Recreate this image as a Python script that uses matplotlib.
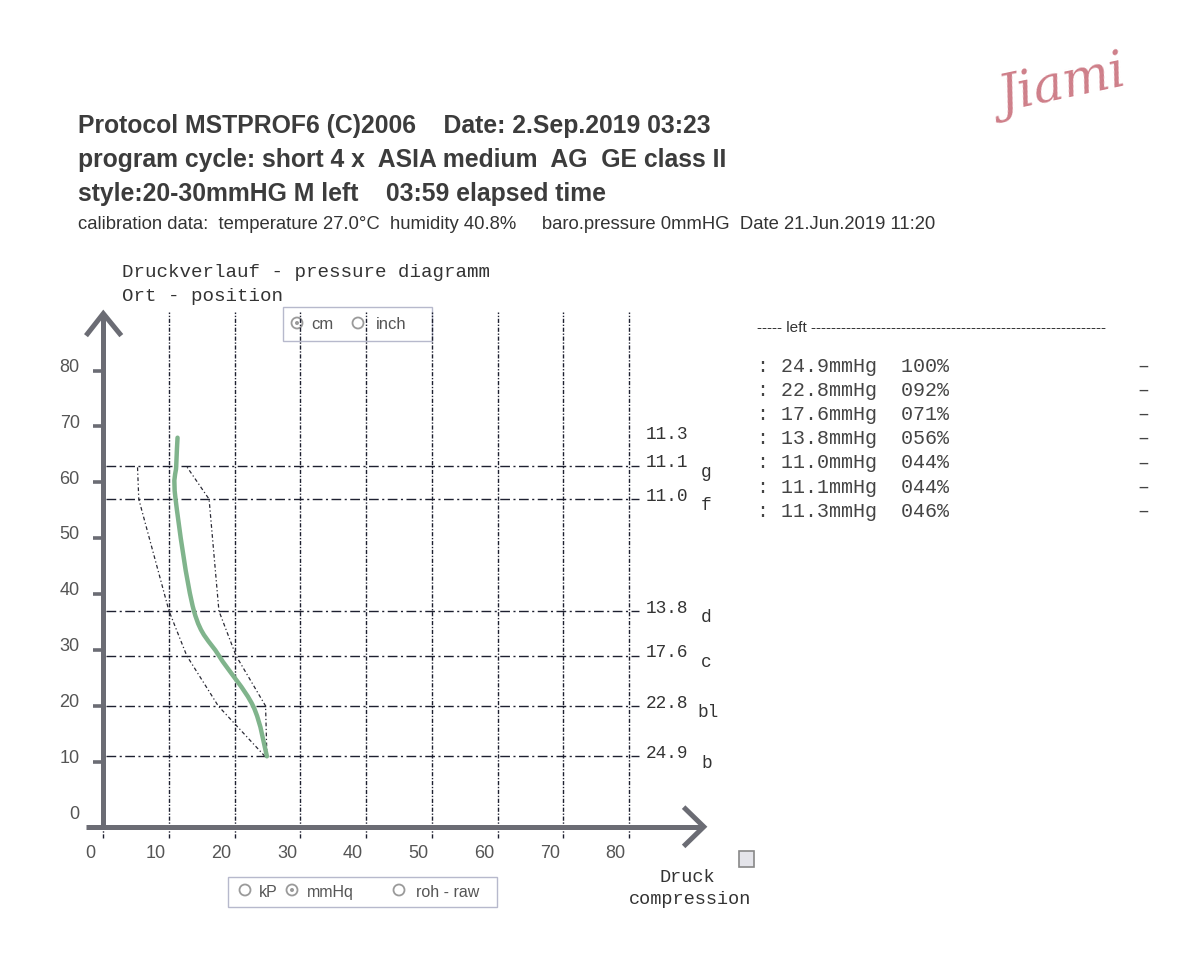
import matplotlib
matplotlib.use("Agg")
import matplotlib.pyplot as plt
from matplotlib.path import Path
from matplotlib.patches import PathPatch, Rectangle, Circle
import numpy as np

# ---------------- data ----------------
positions = [11, 20, 29, 37, 57, 63, 68]            # Ort - position (cm)
pressures = [24.9, 22.8, 17.6, 13.8, 11.0, 11.1, 11.3]  # mmHg
letters = ['b', 'bl', 'c', 'd', 'f', 'g', '']
percents = [100, 92, 71, 56, 44, 44, 46]
line_levels = [11, 20, 29, 37, 57, 63]               # levels with horizontal lines

env_pos = [11, 20, 29, 37, 57, 63]
env_low = [24.6, 17.5, 12.7, 10.0, 5.4, 5.2]
env_high = [24.9, 24.7, 20.2, 17.6, 16.1, 12.6]

x_ticks = [0, 10, 20, 30, 40, 50, 60, 70, 80]
y_ticks = [0, 10, 20, 30, 40, 50, 60, 70, 80]

table_order = [0, 1, 2, 3, 4, 5, 6]

header_lines = [
    "Protocol MSTPROF6 (C)2006    Date: 2.Sep.2019 03:23",
    "program cycle: short 4 x  ASIA medium  AG  GE class II",
    "style:20-30mmHG M left    03:59 elapsed time",
]
calib_line = ("calibration data:  temperature 27.0\u00b0C  humidity 40.8%     "
              "baro.pressure 0mmHG  Date 21.Jun.2019 11:20")

# ---------------- figure ----------------
W, H = 1200, 955
fig = plt.figure(figsize=(W / 100, H / 100), dpi=100)
fig.patch.set_facecolor("white")

# background overlay in pixel coordinates (layout / decoration)
bg = fig.add_axes([0, 0, 1, 1])
bg.set_xlim(0, W)
bg.set_ylim(H, 0)
bg.axis("off")

# chart axes: data -> pixel mapping  px = 103.3 + 6.57*x ; py = 817.8 - 5.59*y
X0, XS = 103.3, 6.57
Y0, YS = 817.8, 5.59
xmin, xmax = -5, 92
ymin, ymax = -6, 92
left = (X0 + XS * xmin) / W
right = (X0 + XS * xmax) / W
top = (Y0 - YS * ymax) / H
bottom = (Y0 - YS * ymin) / H
ax = fig.add_axes([left, 1 - bottom, right - left, bottom - top])
ax.set_xlim(xmin, xmax)
ax.set_ylim(ymin, ymax)
ax.axis("off")

MONO = "Liberation Mono"
SANS = "Liberation Sans"
GRID = "#1e2030"
AXC = "#6b6c74"

# header
hy = [126, 160, 194]
for t, y in zip(header_lines, hy):
    bg.text(78, y, t, fontsize=17.8, fontweight="bold", family=SANS,
            color="#3c3c3c", va="center", ha="left")
bg.text(78, 224, calib_line, fontsize=13.3, family=SANS, color="#333333",
        va="center", ha="left")

# signature
bg.text(1062, 86, "Jiami", fontsize=36, family="DejaVu Serif", style="italic",
        color="#c9707c", va="center", ha="center", rotation=12, alpha=0.9)

# chart titles
bg.text(122, 272, "Druckverlauf - pressure diagramm", family=MONO, fontsize=13.8,
        color="#333333", va="center")
bg.text(122, 296, "Ort - position", family=MONO, fontsize=13.8,
        color="#333333", va="center")

# vertical grid lines
for xv in x_ticks:
    ax.plot([xv, xv], [-3.6, 90.5], color=GRID, lw=1.0,
            dashes=(3, 1.2, 1, 1.2), clip_on=False, zorder=2)

# horizontal level lines
for lv in line_levels:
    ax.plot([0.4, 81.5], [lv, lv], color=GRID, lw=1.0,
            dashes=(7, 2.5, 1.5, 2.5), clip_on=False, zorder=2)

# envelope (tolerance band)
ax.plot(env_low, env_pos, color="#2a2a35", lw=0.9, dashes=(3, 2, 1, 2),
        clip_on=False, zorder=3)
ax.plot(env_high, env_pos, color="#2a2a35", lw=0.9, dashes=(3, 2, 1, 2),
        clip_on=False, zorder=3)
ax.plot([env_low[0], env_high[0]], [env_pos[0], env_pos[0]], color="#2a2a35",
        lw=0.9, clip_on=False, zorder=3)

# green pressure curve (smooth Catmull-Rom bezier through measured points)
P = np.column_stack([pressures, positions]).astype(float)
verts = [tuple(P[0])]
codes = [Path.MOVETO]
n = len(P)
for i in range(n - 1):
    p0 = P[i - 1] if i > 0 else P[i]
    p1, p2 = P[i], P[i + 1]
    p3 = P[i + 2] if i + 2 < n else P[i + 1]
    c1 = p1 + (p2 - p0) / 6.0
    c2 = p2 - (p3 - p1) / 6.0
    verts += [tuple(c1), tuple(c2), tuple(p2)]
    codes += [Path.CURVE4] * 3
ax.add_patch(PathPatch(Path(verts, codes), facecolor="none",
                       edgecolor="#80b48c", lw=3.2, zorder=4, clip_on=False,
                       capstyle="round", joinstyle="round"))

# axes (thick gray with chevron arrows)
ax.plot([0, 0], [-1.6, 89.8], color=AXC, lw=3.6, clip_on=False, zorder=5,
        solid_capstyle="butt")
ax.plot([-2.6, 91.2], [-1.6, -1.6], color=AXC, lw=3.6, clip_on=False, zorder=5,
        solid_capstyle="butt")
# y arrow
ax.plot([-2.4, 0, 2.5], [86.6, 90.2, 86.6], color=AXC, lw=3.6, clip_on=False,
        zorder=5, solid_joinstyle="miter")
# x arrow
ax.plot([88.6, 91.4, 88.6], [1.6, -1.6, -4.8], color=AXC, lw=3.6, clip_on=False,
        zorder=5, solid_joinstyle="miter")

# y ticks and labels
for yv in y_ticks:
    if yv > 0:
        ax.plot([-1.6, 0], [yv, yv], color=AXC, lw=2.6, clip_on=False, zorder=5,
                solid_capstyle="butt")
    ax.text(-3.6, yv + 0.6, str(yv), ha="right", va="center", fontsize=13,
            family=SANS, color="#555555", clip_on=False)

# x tick labels
for xv in x_ticks:
    ax.text(xv - 2.0, -6.4, str(xv), ha="center", va="center", fontsize=13,
            family=SANS, color="#555555", clip_on=False)

# level value labels and letters
for p, pr, let in zip(positions, pressures, letters):
    ax.text(82.5, p + 0.5, f"{pr:.1f}", family=MONO, fontsize=12.8,
            color="#333333", ha="left", va="center", clip_on=False)
    if let:
        ax.text(91.0 if let != 'bl' else 90.5, p - 1.2, let, family=MONO,
                fontsize=12.8, color="#333333", ha="left", va="center",
                clip_on=False)

# cm / inch box
bg.add_patch(Rectangle((283, 307), 149, 34, facecolor="white",
                       edgecolor="#b7b9cc", lw=1.0, zorder=6))
def radio(x, y, sel):
    bg.add_patch(Circle((x, y), 5.5, facecolor="white", edgecolor="#9a9a9a",
                        lw=1.3, zorder=7))
    if sel:
        bg.add_patch(Circle((x, y), 2.0, facecolor="#9a9a9a", edgecolor="none",
                            zorder=8))
radio(297, 323, True)
bg.text(311, 324, "cm", family=SANS, fontsize=12, color="#555555",
        va="center", zorder=8)
radio(358, 323, False)
bg.text(376, 324, "inch", family=SANS, fontsize=12, color="#555555",
        va="center", zorder=8)

# unit box bottom
bg.add_patch(Rectangle((228, 877), 269, 30, facecolor="white",
                       edgecolor="#b7b9cc", lw=1.0, zorder=6))
radio(245, 890, False)
bg.text(259, 892, "kP", family=SANS, fontsize=11.5, color="#555555",
        va="center", zorder=8)
radio(292, 890, True)
bg.text(307, 892, "mmHq", family=SANS, fontsize=11.5, color="#555555",
        va="center", zorder=8)
radio(399, 890, False)
bg.text(416, 892, "roh - raw", family=SANS, fontsize=11.5, color="#555555",
        va="center", zorder=8)

# checkbox
bg.add_patch(Rectangle((739, 851), 15, 16, facecolor="#e4e4ea",
                       edgecolor="#888888", lw=1.2, zorder=6))
bg.text(687, 877, "Druck", family=MONO, fontsize=13.4, color="#333333",
        ha="center", va="center")
bg.text(690, 899, "compression", family=MONO, fontsize=13.4, color="#333333",
        ha="center", va="center")

# right panel
bg.text(757, 328, "----- left " + "-" * 59, family=SANS, fontsize=11,
        color="#333333", va="center")
row_y0, row_dy = 366, 24.2
for k, i in enumerate(table_order):
    y = row_y0 + k * row_dy
    bg.text(757, y, f": {pressures[i]:.1f}mmHg  {percents[i]:03d}%",
            family=MONO, fontsize=14.4, color="#444444", va="center")
    bg.text(1143, y, "\u2013", family=MONO, fontsize=14.4, color="#444444",
            va="center", ha="center")

fig.savefig("out.png", dpi=100, facecolor="white")
